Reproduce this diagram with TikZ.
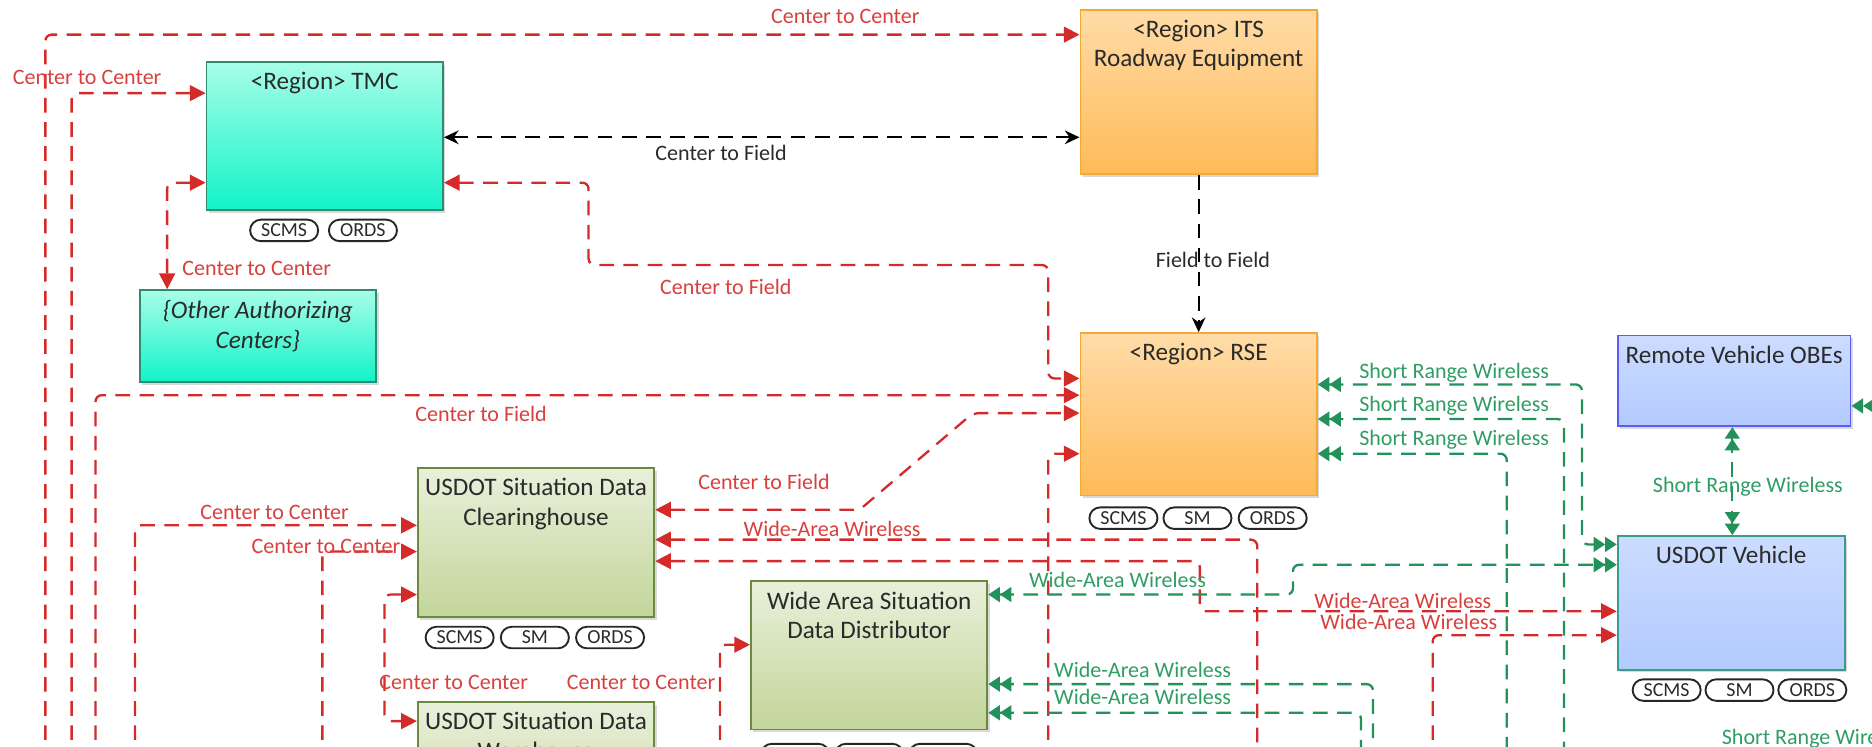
\documentclass[tikz,border=0pt]{standalone}
\usepackage{fontspec}
\setmainfont{Carlito}
\usetikzlibrary{arrows.meta,shadows}

\definecolor{tealtop}{HTML}{A8FDE8}
\definecolor{tealbot}{HTML}{12F3C9}
\definecolor{tealedge}{HTML}{2F8C72}
\definecolor{orangetop}{HTML}{FFDCA8}
\definecolor{orangebot}{HTML}{FFBA58}
\definecolor{orangeedge}{HTML}{F5A935}
\definecolor{greentop}{HTML}{E9F0DB}
\definecolor{greenbot}{HTML}{C2D59A}
\definecolor{greenedge}{HTML}{6B8A3E}
\definecolor{bluetop}{HTML}{CCDCFF}
\definecolor{bluebot}{HTML}{B3CAFF}
\definecolor{obeedge}{HTML}{5A5CF2}
\definecolor{vehedge}{HTML}{3E9B8C}
\definecolor{linkred}{HTML}{D42A2A}
\definecolor{txtred}{HTML}{D8403E}
\definecolor{linkgreen}{HTML}{23915A}
\definecolor{txtgreen}{HTML}{2F9D64}
\definecolor{txtdark}{HTML}{2A2A2A}

\begin{document}
\begin{tikzpicture}[x=0.2mm, y=-0.2mm,
  sysbox/.style={draw, line width=0.9pt, minimum width=39.6mm,
    drop shadow={shadow xshift=1.2pt, shadow yshift=-1.2pt, opacity=0.3}},
  tealbox/.style={sysbox, draw=tealedge, top color=tealtop, bottom color=tealbot},
  orangebox/.style={sysbox, draw=orangeedge, top color=orangetop, bottom color=orangebot},
  greenbox/.style={sysbox, draw=greenedge, top color=greentop, bottom color=greenbot},
  bluebox/.style={sysbox, top color=bluetop, bottom color=bluebot},
  boxtitle/.style={anchor=north, inner sep=0pt, yshift=-1.8mm, align=center,
    text=txtdark, font=\fontsize{12}{14.2}\selectfont},
  badge/.style={draw=black!85, line width=0.9pt, rounded corners=1.8mm,
    minimum width=11.4mm, minimum height=3.6mm, inner sep=0pt,
    text=txtdark, font=\fontsize{9.5}{10}\selectfont},
  redlbl/.style={text=txtred, font=\fontsize{10.5}{12}\selectfont},
  greenlbl/.style={text=txtgreen, font=\fontsize{10.5}{12}\selectfont},
  blacklbl/.style={text=txtdark, font=\fontsize{10.5}{12}\selectfont},
  rlink/.style={draw=linkred, line width=1.1pt, dash pattern=on 7pt off 4.5pt, rounded corners=3pt},
  glink/.style={draw=linkgreen, line width=1.1pt, dash pattern=on 7pt off 4.5pt, rounded corners=3pt},
  klink/.style={draw=black, line width=1.1pt, dash pattern=on 7pt off 4.5pt},
  rto/.style={-{Triangle[length=7.5pt,width=7.5pt]}},
  rfrom/.style={{Triangle[length=7.5pt,width=7.5pt]}-},
  rboth/.style={{Triangle[length=7.5pt,width=7.5pt]}-{Triangle[length=7.5pt,width=7.5pt]}},
  gto/.style={-{Triangle[length=5.5pt,width=7pt]Triangle[length=5.5pt,width=7pt]}},
  gfrom/.style={{Triangle[length=5.5pt,width=7pt]Triangle[length=5.5pt,width=7pt]}-},
  gboth/.style={{Triangle[length=5.5pt,width=7pt]Triangle[length=5.5pt,width=7pt]}-{Triangle[length=5.5pt,width=7pt]Triangle[length=5.5pt,width=7pt]}},
  kto/.style={-{Stealth[length=7pt,width=6.5pt]}},
  kboth/.style={{Stealth[length=7pt,width=6.5pt]}-{Stealth[length=7pt,width=6.5pt]}}
]
\useasboundingbox (0,0) rectangle (1568,625);

% centers
\node[tealbox, minimum height=24.8mm, label={[boxtitle]north:<Region> TMC}] (tmc) at (272,114) {};
\node[tealbox, minimum height=15.4mm,
  label={[boxtitle, font=\itshape\fontsize{12}{14.2}\selectfont]north:\{Other Authorizing\\Centers\}}] (oac) at (216,281.5) {};
\node[greenbox, minimum height=25mm, label={[boxtitle]north:USDOT Situation Data\\Clearinghouse}] (sdc) at (449,454.5) {};
\node[greenbox, minimum height=25mm, label={[boxtitle]north:USDOT Situation Data\\Warehouse}] (sdw) at (449,650.5) {};
\node[greenbox, minimum height=24.8mm, label={[boxtitle]north:Wide Area Situation\\Data Distributor}] (wasdd) at (728,549) {};

% field
\node[orangebox, minimum height=27.6mm, label={[boxtitle]north:<Region> ITS\\Roadway Equipment}] (its) at (1004,77) {};
\node[orangebox, minimum height=27.2mm, label={[boxtitle]north:<Region> RSE}] (rse) at (1004,347) {};

% vehicles
\node[bluebox, draw=obeedge, minimum width=39mm, minimum height=15.2mm,
  label={[boxtitle]north:Remote Vehicle OBEs}] (obe) at (1452.5,319) {};
\node[bluebox, draw=vehedge, minimum width=38mm, minimum height=22.4mm,
  label={[boxtitle]north:USDOT Vehicle}] (veh) at (1450,505) {};

% badges
\node[badge] (tmc-scms) at (238,193) {SCMS};
\node[badge] (tmc-ords) at (304,193) {ORDS};
\node[badge] (rse-scms) at (941,434) {SCMS};
\node[badge] (rse-sm) at (1003,434) {SM};
\node[badge] (rse-ords) at (1066,434) {ORDS};
\node[badge] (sdc-scms) at (385,534) {SCMS};
\node[badge] (sdc-sm) at (448,534) {SM};
\node[badge] (sdc-ords) at (511,534) {ORDS};
\node[badge] (wasdd-scms) at (666,632) {SCMS};
\node[badge] (wasdd-sm) at (728,632) {SM};
\node[badge] (wasdd-ords) at (790,632) {ORDS};
\node[badge] (veh-scms) at (1396,578) {SCMS};
\node[badge] (veh-sm) at (1457,578) {SM};
\node[badge] (veh-ords) at (1518,578) {ORDS};

% loose ends running off the sheet
\coordinate (e1) at (38,640);
\coordinate (e2) at (60,640);
\coordinate (e3) at (80,640);
\coordinate (e4) at (113,640);
\coordinate (e5) at (270,640);
\coordinate (e6) at (603,640);
\coordinate (e7) at (878,640);
\coordinate (e8) at (1053,640);
\coordinate (e9) at (1200,640);
\coordinate (e10) at (1140,640);
\coordinate (e11) at (1150,640);
\coordinate (e12) at (1262,640);
\coordinate (e13) at (1310,640);
\coordinate (e14) at (1580,340);

% center links
\path[rlink, rto] (e1) |- (its.west |- 0,29);
\path[rlink, rto] (e2) |- (tmc.west |- 0,78);
\path[rlink, rboth] (tmc.west |- 0,153) -| (oac.north -| 140,0);
\path[rlink, rboth] (tmc.east |- 0,153) -- (493,153) -- (493,222) -- (878,222) -- (878,317) -- (rse.west |- 0,317);
\path[rlink, rto] (e3) |- (rse.west |- 0,331);
\path[rlink, rboth] (sdc.east |- 0,427) -- (720,427) -- (815,346) -- (rse.west |- 0,346);
\path[rlink, rto] (e7) |- (rse.west |- 0,380);
\path[rlink, rfrom] (sdc.east |- 0,452) -| (e8);
\path[rlink, rboth] (sdc.east |- 0,470) -- (1005,470) -- (1005,512) -- (veh.west |- 0,512);
\path[rlink, rto] (e9) |- (veh.west |- 0,532);
\path[rlink, rto] (e4) |- (sdc.west |- 0,440);
\path[rlink, rto] (e5) |- (sdc.west |- 0,462);
\path[rlink, rboth] (sdc.west |- 0,498) -- (322,498) -- (322,604) -- (sdw.west |- 0,604);
\path[rlink, rto] (e6) |- (wasdd.west |- 0,540);

% field links
\path[klink, kboth] (tmc.east |- 0,115) -- (its.west |- 0,115);
\path[klink, kto] (its.south) -- (rse.north);

% wireless links
\path[glink, gboth] (rse.east |- 0,322) -- (1325,322) -- (1325,456) -- (veh.west |- 0,456);
\path[glink, gfrom] (rse.east |- 0,351) -| (e13);
\path[glink, gfrom] (rse.east |- 0,380) -| (e12);
\path[glink, gboth] (wasdd.east |- 0,498) -- (1083,498) -- (1083,473) -- (veh.west |- 0,473);
\path[glink, gfrom] (wasdd.east |- 0,573) -| (e11);
\path[glink, gfrom] (wasdd.east |- 0,597) -| (e10);
\path[glink, gboth] (obe.south -| 1451,0) -- (veh.north -| 1451,0);
\path[glink, gto] (e14) -- (obe.east |- e14);

% link labels
\node[redlbl] (l-c2c-its) at (708,14) {Center to Center};
\node[redlbl] (l-c2c-tmc) at (73,65) {Center to Center};
\node[redlbl] (l-c2c-oac) at (215,225) {Center to Center};
\node[redlbl] (l-c2f-tmc) at (608,240) {Center to Field};
\node[redlbl] (l-c2f-rse) at (403,347) {Center to Field};
\node[redlbl] (l-c2f-sdc) at (640,404) {Center to Field};
\node[redlbl] (l-waw-sdc) at (697,443) {Wide-Area Wireless};
\node[redlbl] (l-c2c-sdc1) at (230,429) {Center to Center};
\node[redlbl] (l-c2c-sdc2) at (273,458) {Center to Center};
\node[redlbl] (l-c2c-sdw) at (380,572) {Center to Center};
\node[redlbl] (l-c2c-wasdd) at (537,572) {Center to Center};
\node[redlbl] (l-waw-veh1) at (1175,503) {Wide-Area Wireless};
\node[redlbl] (l-waw-veh2) at (1180,521) {Wide-Area Wireless};
\node[blacklbl] (l-c2f-its) at (604,128) {Center to Field};
\node[blacklbl] (l-f2f) at (1016,218) {Field to Field};
\node[greenlbl] (l-srw1) at (1218,312) {Short Range Wireless};
\node[greenlbl] (l-srw2) at (1218,340) {Short Range Wireless};
\node[greenlbl] (l-srw3) at (1218,368) {Short Range Wireless};
\node[greenlbl] (l-srw-obe) at (1464,408) {Short Range Wireless};
\node[greenlbl] (l-waw-wasdd1) at (936,486) {Wide-Area Wireless};
\node[greenlbl] (l-waw-wasdd2) at (957,561) {Wide-Area Wireless};
\node[greenlbl] (l-waw-wasdd3) at (957,584) {Wide-Area Wireless};
\node[greenlbl, anchor=west] (l-srw-veh) at (1436,619) {Short Range Wireless};
\end{tikzpicture}
\end{document}
